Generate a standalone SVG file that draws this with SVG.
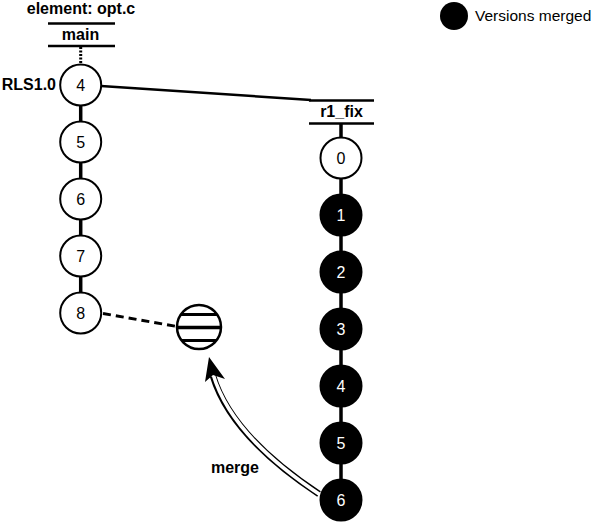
<svg xmlns="http://www.w3.org/2000/svg" width="599" height="523" viewBox="0 0 599 523">
<style>
.lbl{font-family:"Liberation Sans",Arial,sans-serif;font-weight:bold;font-size:16px;fill:#000}
.num{font-family:"Liberation Sans",Arial,sans-serif;font-size:16px;text-anchor:middle}
.wn{fill:#fff;stroke:#000;stroke-width:2}
.bn{fill:#000;stroke:#000;stroke-width:2}
.bar{stroke:#000;stroke-width:2.5}
.seg{stroke:#000;stroke-width:3.5}
</style>
<defs>
<clipPath id="ballclip"><circle cx="199" cy="327" r="22"/></clipPath>
</defs>
<rect width="599" height="523" fill="#fff"/>

<g id="title">
<text class="lbl" x="81" y="14" text-anchor="middle">element: opt.c</text>
</g>
<g id="branch-main">
<line class="bar" x1="48" y1="23.5" x2="115" y2="23.5"/>
<text class="lbl" x="80.5" y="40" text-anchor="middle">main</text>
<line class="bar" x1="48" y1="46" x2="115" y2="46"/>
</g>
<g id="branch-r1_fix">
<line class="bar" x1="309" y1="100.5" x2="374" y2="100.5"/>
<text class="lbl" x="341.5" y="117" text-anchor="middle">r1_fix</text>
<line class="bar" x1="309" y1="123.5" x2="374" y2="123.5"/>
</g>

<g id="connectors" fill="none">
<line x1="80.7" y1="47" x2="80.7" y2="64" stroke="#000" stroke-width="3" stroke-dasharray="2 1.5"/>
<line class="seg" x1="80.7" y1="85" x2="80.7" y2="313"/>
<line x1="101" y1="86" x2="311" y2="100" stroke="#000" stroke-width="2.5"/>
<line class="seg" x1="341" y1="124" x2="341" y2="500"/>
<line x1="103" y1="313.5" x2="177" y2="326.5" stroke="#000" stroke-width="3" stroke-dasharray="8 5"/>
<path d="M319,494 C275,465 228,425 213,376" stroke="#000" stroke-width="6.5"/>
<path d="M322,496 C275,465 228,425 213,374" stroke="#fff" stroke-width="3.5"/>
<polygon points="209,357 205,382 213,375 225,379" fill="#000"/>
</g>

<g id="main-4"><circle class="wn" cx="80.7" cy="85" r="20.5"/><text class="num" x="80.7" y="91">4</text></g>
<g id="main-5"><circle class="wn" cx="80.7" cy="142" r="20.5"/><text class="num" x="80.7" y="148">5</text></g>
<g id="main-6"><circle class="wn" cx="80.7" cy="199" r="20.5"/><text class="num" x="80.7" y="205">6</text></g>
<g id="main-7"><circle class="wn" cx="80.7" cy="256" r="20.5"/><text class="num" x="80.7" y="262">7</text></g>
<g id="main-8"><circle class="wn" cx="80.7" cy="313" r="20.5"/><text class="num" x="80.7" y="319">8</text></g>
<g id="label-rls"><text class="lbl" x="56" y="90" text-anchor="end">RLS1.0</text></g>

<g id="merge-target">
<circle cx="199" cy="327" r="22" fill="#fff"/>
<g clip-path="url(#ballclip)" stroke="#000">
<line x1="170" y1="314.5" x2="230" y2="314.5" stroke-width="3"/>
<line x1="170" y1="327.5" x2="230" y2="327.5" stroke-width="3.5"/>
<line x1="170" y1="340.5" x2="230" y2="340.5" stroke-width="3"/>
</g>
<circle cx="199" cy="327" r="22" fill="none" stroke="#000" stroke-width="2.5"/>
</g>

<g id="r1-0"><circle class="wn" cx="341" cy="158" r="20.5"/><text class="num" x="341" y="164">0</text></g>
<g id="r1-1"><circle class="bn" cx="341" cy="215" r="20.5"/><text class="num" x="341" y="221" fill="#fff">1</text></g>
<g id="r1-2"><circle class="bn" cx="341" cy="272" r="20.5"/><text class="num" x="341" y="278" fill="#fff">2</text></g>
<g id="r1-3"><circle class="bn" cx="341" cy="329" r="20.5"/><text class="num" x="341" y="335" fill="#fff">3</text></g>
<g id="r1-4"><circle class="bn" cx="341" cy="386" r="20.5"/><text class="num" x="341" y="392" fill="#fff">4</text></g>
<g id="r1-5"><circle class="bn" cx="341" cy="443" r="20.5"/><text class="num" x="341" y="449" fill="#fff">5</text></g>
<g id="r1-6"><circle class="bn" cx="341" cy="500" r="20.5"/><text class="num" x="341" y="506" fill="#fff">6</text></g>

<g id="label-merge"><text class="lbl" x="235" y="473" text-anchor="middle">merge</text></g>

<g id="legend">
<circle cx="454" cy="16" r="14" fill="#000"/>
<text x="475" y="21" font-family="'Liberation Sans',Arial,sans-serif" font-size="15.5">Versions merged</text>
</g>
</svg>
